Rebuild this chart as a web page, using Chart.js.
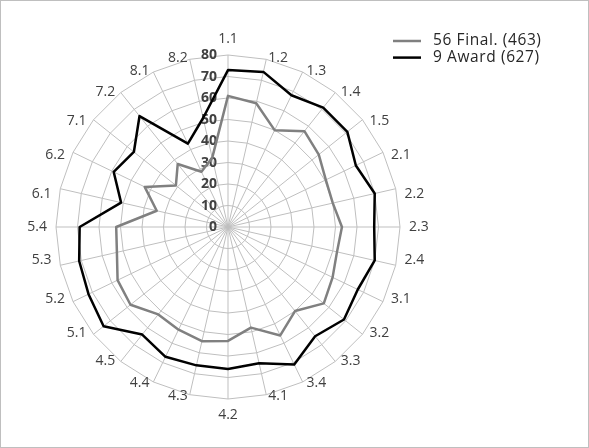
<!DOCTYPE html>
<html>
<head>
<meta charset="utf-8">
<script src="https://cdn.jsdelivr.net/npm/chart.js@4.4.1/dist/chart.umd.min.js"></script>
<style>
  html, body { margin: 0; padding: 0; background: #fff; }
  #wrap { position: relative; width: 589px; height: 448px; }
  canvas { display: block; }
</style>
</head>
<body>
<div id="wrap"><canvas id="c" width="589" height="448"></canvas></div>
<script>
const categories = ["1.1","1.2","1.3","1.4","1.5","2.1","2.2","2.3","2.4","3.1","3.2","3.3","3.4","4.1","4.2","4.3","4.4","4.5","5.1","5.2","5.3","5.4","6.1","6.2","7.1","7.2","8.1","8.2"];
const finalValues = [61,59,50,57,54,50.5,50,53,52,54,57,50,56,48,53,54.5,53,52,58,57,53,52,34,43,31,37.5,28.5,33];
const awardValues = [73,74,68,71,71,66,70,68,70,67,69,65,71,65,66,66,67,64,74,72,71,69,51,59,56,66,43,52];
const seriesNames = ["56 Final. (463)", "9 Award (627)"];
const seriesColors = ["#808080", "#000000"];
const tickValues = [0,10,20,30,40,50,60,70,80];

const FONT = "'Open Sans', 'Noto Sans', sans-serif";

const decorPlugin = {
  id: 'decor',
  beforeDatasetsDraw(chart) {
    const ctx = chart.ctx;
    const s = chart.scales.r;
    ctx.save();
    // tick labels
    ctx.font = "bold 14px " + FONT;
    ctx.fillStyle = "#404040";
    ctx.textAlign = "right";
    ctx.textBaseline = "middle";
    tickValues.forEach(v => {
      const y = s.yCenter - s.getDistanceFromCenterForValue(v);
      ctx.fillText(String(v), s.xCenter - 11, y + 0.5);
    });
    // point labels
    ctx.font = "14px " + FONT;
    ctx.fillStyle = "#404040";
    const R = 181, h = 14;
    const n = categories.length;
    categories.forEach((lab, i) => {
      const th = i * 2 * Math.PI / n;
      const sn = Math.sin(th), cs = Math.cos(th);
      const ax = s.xCenter + R * sn;
      const ay = s.yCenter - R * cs;
      let align = 'center';
      if (sn > 0.01) align = 'left';
      else if (sn < -0.01) align = 'right';
      let yc;
      if (Math.abs(sn) <= 0.01) {
        yc = cs > 0 ? ay - h / 2 : ay + h / 2;
      } else if (Math.abs(cs) <= 0.01) {
        yc = ay;
      } else if (cs > 0) {
        yc = ay + h / 2;
      } else {
        yc = ay - h / 2;
      }
      ctx.textAlign = align;
      ctx.textBaseline = 'middle';
      ctx.fillText(lab, ax, yc);
    });
    ctx.restore();
  },
  afterDraw(chart) {
    const ctx = chart.ctx;
    ctx.save();
    // legend
    ctx.font = "15.5px " + FONT;
    try { ctx.letterSpacing = "0.6px"; } catch (e) {}
    ctx.textAlign = 'left';
    ctx.textBaseline = 'middle';
    chart.data.datasets.forEach((ds, i) => {
      const y = 41 + i * 16.6;
      ctx.strokeStyle = ds.borderColor;
      ctx.lineWidth = 2.5;
      ctx.beginPath();
      ctx.moveTo(393, y);
      ctx.lineTo(421, y);
      ctx.stroke();
      ctx.fillStyle = "#262626";
      ctx.fillText(ds.label, 433, y);
    });
    try { ctx.letterSpacing = "0px"; } catch (e) {}
    // frame
    ctx.strokeStyle = "#BFBFBF";
    ctx.lineWidth = 1;
    ctx.strokeRect(0.5, 0.5, chart.width - 1, chart.height - 1);
    ctx.restore();
  }
};

new Chart(document.getElementById('c'), {
  type: 'radar',
  data: {
    labels: categories,
    datasets: [
      { label: seriesNames[0], data: finalValues, borderColor: seriesColors[0], backgroundColor: 'transparent', borderWidth: 2.5, pointRadius: 0, fill: false, tension: 0 },
      { label: seriesNames[1], data: awardValues, borderColor: seriesColors[1], backgroundColor: 'transparent', borderWidth: 2.5, pointRadius: 0, fill: false, tension: 0 }
    ]
  },
  options: {
    responsive: false,
    animation: false,
    devicePixelRatio: 1,
    layout: { padding: { left: 56, top: 55, right: 189, bottom: 49 } },
    plugins: { legend: { display: false }, tooltip: { enabled: false } },
    elements: { line: { borderJoinStyle: 'round' } },
    scales: {
      r: {
        min: 0, max: 80,
        ticks: { stepSize: 10, display: false },
        grid: { color: '#BFBFBF', lineWidth: 1 },
        angleLines: { color: '#BFBFBF', lineWidth: 1 },
        pointLabels: { display: false }
      }
    }
  },
  plugins: [decorPlugin]
});
</script>
</body>
</html>
